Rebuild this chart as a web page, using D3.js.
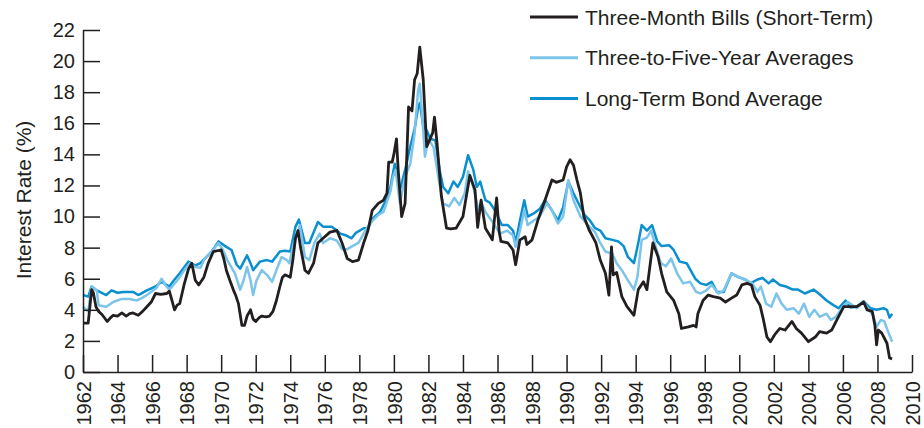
<!DOCTYPE html>
<html>
<head>
<meta charset="utf-8">
<script src="https://cdn.jsdelivr.net/npm/d3@7"></script>
<style>
  body { margin: 0; background: #fff; }
</style>
</head>
<body>
<script>
// series: [year, rate %]
var billRates = [
  [1962.0,3.15],[1962.3,3.15],[1962.4,4.2],[1962.5,5.3],[1962.6,5.1],[1962.75,4.2],[1962.9,3.9],
  [1963.1,3.7],[1963.4,3.25],[1963.6,3.5],[1963.75,3.65],[1964.0,3.6],[1964.25,3.8],[1964.5,3.6],
  [1964.7,3.75],[1964.9,3.8],[1965.2,3.65],[1965.45,3.9],[1965.7,4.2],[1965.95,4.5],[1966.2,5.05],
  [1966.5,5.0],[1966.85,5.05],[1967.0,5.2],[1967.15,4.6],[1967.3,4.0],[1967.45,4.3],[1967.6,4.4],
  [1967.85,5.6],[1968.1,6.6],[1968.3,7.0],[1968.5,5.9],[1968.7,5.6],[1969.0,6.1],[1969.25,7.0],
  [1969.55,7.75],[1969.8,7.8],[1970.0,7.85],[1970.15,7.3],[1970.3,6.55],[1970.5,5.9],[1970.7,5.3],
  [1970.85,4.9],[1971.0,4.4],[1971.2,3.0],[1971.35,3.0],[1971.5,3.6],[1971.7,4.0],[1971.85,3.4],
  [1972.0,3.25],[1972.2,3.5],[1972.35,3.6],[1972.6,3.55],[1972.8,3.6],[1973.0,3.9],[1973.2,4.6],
  [1973.4,5.5],[1973.55,6.1],[1973.7,6.25],[1974.0,6.1],[1974.15,7.2],[1974.3,8.6],[1974.45,9.1],
  [1974.6,8.0],[1974.85,6.55],[1975.05,6.35],[1975.35,7.0],[1975.6,8.3],[1975.9,8.6],[1976.3,9.0],
  [1976.7,9.1],[1977.0,8.3],[1977.3,7.3],[1977.6,7.1],[1977.95,7.2],[1978.25,8.3],[1978.5,9.1],
  [1978.75,10.4],[1979.1,10.85],[1979.4,11.05],[1979.6,11.5],[1979.7,13.5],[1979.9,13.5],[1980.0,14.0],
  [1980.15,15.0],[1980.25,13.0],[1980.45,10.0],[1980.65,10.85],[1980.85,17.05],[1981.05,16.8],
  [1981.2,18.8],[1981.35,19.2],[1981.5,20.9],[1981.7,18.8],[1981.9,14.5],[1982.1,15.0],[1982.25,15.4],
  [1982.35,16.4],[1982.5,14.7],[1982.75,11.3],[1983.05,9.25],[1983.3,9.2],[1983.6,9.25],[1984.0,10.0],
  [1984.4,12.65],[1984.7,11.7],[1984.85,9.3],[1985.05,11.05],[1985.3,9.25],[1985.55,8.8],[1985.7,8.5],
  [1985.95,11.2],[1986.1,9.0],[1986.2,8.4],[1986.6,8.3],[1986.9,7.85],[1987.05,6.9],[1987.3,8.5],
  [1987.6,8.7],[1987.7,8.2],[1988.0,8.5],[1988.35,9.8],[1988.75,11.05],[1989.15,12.35],[1989.4,12.2],
  [1989.8,12.35],[1990.0,13.2],[1990.2,13.65],[1990.4,13.3],[1990.6,12.35],[1990.8,11.5],[1991.0,10.0],
  [1991.3,9.15],[1991.7,8.3],[1991.95,7.2],[1992.25,6.35],[1992.45,4.95],[1992.6,8.05],[1992.7,6.25],
  [1992.9,6.4],[1993.2,4.85],[1993.5,4.2],[1993.9,3.65],[1994.15,5.3],[1994.45,5.8],[1994.65,5.3],
  [1995.0,8.3],[1995.3,7.4],[1995.5,6.35],[1995.8,5.15],[1996.2,4.6],[1996.5,3.75],[1996.65,2.8],
  [1997.05,2.9],[1997.35,3.0],[1997.5,2.9],[1997.6,3.75],[1997.9,4.6],[1998.2,4.95],[1998.5,4.85],
  [1998.9,4.75],[1999.2,4.5],[1999.55,4.75],[1999.85,4.95],[2000.15,5.6],[2000.45,5.7],[2000.7,5.6],
  [2000.9,4.85],[2001.2,4.3],[2001.4,3.35],[2001.6,2.25],[2001.8,1.95],[2002.05,2.4],[2002.35,2.8],
  [2002.65,2.7],[2003.05,3.25],[2003.3,2.8],[2003.6,2.5],[2004.0,1.95],[2004.4,2.25],[2004.65,2.6],
  [2005.05,2.5],[2005.35,2.7],[2005.65,3.35],[2006.05,4.2],[2006.3,4.2],[2006.8,4.2],[2007.2,4.5],
  [2007.4,4.0],[2007.7,3.9],[2007.85,3.0],[2007.95,1.75],[2008.05,2.7],[2008.25,2.5],[2008.55,1.85],
  [2008.7,0.9],[2008.85,0.85]
];

var midRates = [
  [1962.0,4.2],[1962.3,3.9],[1962.5,5.5],[1962.8,5.25],[1962.9,4.3],[1963.35,4.2],[1963.75,4.5],
  [1964.25,4.7],[1964.7,4.7],[1965.1,4.6],[1965.4,4.75],[1965.7,4.95],[1966.25,5.4],[1966.55,6.0],
  [1966.8,5.55],[1967.0,5.3],[1967.2,5.55],[1967.6,6.1],[1967.9,6.6],[1968.2,7.0],[1968.5,6.75],
  [1968.8,6.7],[1969.05,7.3],[1969.45,7.75],[1969.85,8.3],[1970.1,7.85],[1970.4,7.1],[1970.8,6.35],
  [1971.1,5.3],[1971.3,5.9],[1971.5,6.75],[1971.7,5.9],[1971.85,4.95],[1972.05,5.9],[1972.35,6.55],
  [1972.65,6.25],[1972.95,5.8],[1973.2,6.55],[1973.5,7.4],[1973.8,7.2],[1973.95,7.0],[1974.2,8.3],
  [1974.45,8.9],[1974.55,9.45],[1974.85,7.4],[1975.1,7.2],[1975.4,8.3],[1975.7,8.9],[1975.9,8.3],
  [1976.3,8.6],[1976.7,8.45],[1977.0,7.9],[1977.3,7.9],[1977.6,8.1],[1977.95,8.3],[1978.35,9.1],
  [1978.7,9.65],[1979.1,10.1],[1979.4,10.3],[1979.8,11.6],[1979.95,12.55],[1980.1,13.0],[1980.35,10.85],
  [1980.65,12.55],[1980.95,13.4],[1981.2,15.35],[1981.4,18.1],[1981.5,18.55],[1981.7,15.55],
  [1981.8,13.85],[1982.0,15.0],[1982.3,14.45],[1982.6,12.35],[1982.85,10.85],[1983.2,10.65],
  [1983.5,11.2],[1983.8,10.75],[1984.1,11.5],[1984.3,12.9],[1984.6,11.9],[1984.9,10.4],[1985.05,10.95],
  [1985.3,10.3],[1985.65,9.75],[1986.15,8.9],[1986.55,9.1],[1986.9,8.8],[1987.05,8.05],[1987.3,9.1],
  [1987.55,10.4],[1987.75,9.45],[1988.1,9.75],[1988.45,10.0],[1988.85,10.85],[1989.15,10.4],
  [1989.5,9.55],[1989.8,10.0],[1990.1,12.35],[1990.4,11.05],[1990.8,10.0],[1991.15,9.55],[1991.65,9.0],
  [1991.95,8.3],[1992.25,7.75],[1992.65,7.6],[1992.9,7.0],[1993.2,6.55],[1993.55,5.9],[1993.9,5.3],
  [1994.1,6.1],[1994.35,8.5],[1994.65,8.65],[1994.9,9.1],[1995.15,8.1],[1995.45,7.0],[1995.75,6.8],
  [1996.05,7.3],[1996.4,6.35],[1996.75,5.7],[1997.15,5.8],[1997.5,5.15],[1997.75,5.05],[1998.1,5.25],
  [1998.4,5.6],[1998.8,5.05],[1999.1,5.25],[1999.55,6.35],[1999.95,6.1],[2000.35,5.95],[2000.75,5.7],
  [2001.05,5.15],[2001.25,5.5],[2001.55,4.4],[2001.85,4.2],[2002.15,5.05],[2002.45,4.4],[2002.75,4.0],
  [2003.15,4.1],[2003.45,3.75],[2003.75,4.4],[2004.05,3.55],[2004.35,4.0],[2004.65,3.55],[2005.05,3.75],
  [2005.3,3.35],[2005.6,3.55],[2006.0,4.2],[2006.3,4.5],[2006.8,4.1],[2007.2,4.5],[2007.5,4.0],
  [2007.75,3.65],[2007.95,2.9],[2008.2,3.35],[2008.4,3.25],[2008.65,2.5],[2008.85,1.95]
];

var longRates = [
  [1962.0,4.95],[1962.3,4.85],[1962.5,5.5],[1962.8,5.25],[1963.35,4.95],[1963.65,5.25],[1964.0,5.1],
  [1964.35,5.15],[1964.9,5.15],[1965.2,4.95],[1965.7,5.25],[1966.2,5.5],[1966.55,5.8],[1967.0,5.5],
  [1967.3,5.95],[1967.6,6.35],[1968.1,7.1],[1968.5,6.85],[1968.8,7.0],[1969.05,7.3],[1969.45,7.75],
  [1969.85,8.4],[1970.3,8.05],[1970.6,7.85],[1970.9,6.9],[1971.1,6.65],[1971.5,7.5],[1971.7,7.0],
  [1971.85,6.55],[1972.25,7.1],[1972.65,7.2],[1972.95,7.1],[1973.4,7.75],[1973.7,7.8],[1974.0,7.75],
  [1974.3,9.35],[1974.5,9.8],[1974.85,8.3],[1975.1,8.3],[1975.6,9.65],[1975.9,9.35],[1976.4,9.35],
  [1976.7,9.1],[1976.9,8.9],[1977.2,8.8],[1977.55,8.6],[1977.8,8.95],[1978.25,9.25],[1978.5,9.25],
  [1978.8,9.9],[1979.2,10.3],[1979.5,10.95],[1979.8,11.9],[1980.05,13.4],[1980.35,11.7],[1980.65,13.0],
  [1980.95,14.5],[1981.2,15.65],[1981.4,17.0],[1981.5,17.3],[1981.7,15.8],[1981.9,15.55],[1982.1,15.0],
  [1982.4,14.9],[1982.65,13.0],[1982.85,11.9],[1983.15,11.5],[1983.45,12.25],[1983.7,11.9],
  [1984.0,12.55],[1984.3,13.95],[1984.6,13.0],[1984.8,11.9],[1985.0,12.25],[1985.3,11.05],[1985.55,10.9],
  [1985.85,10.4],[1986.25,9.45],[1986.6,9.45],[1986.9,9.1],[1987.05,8.3],[1987.3,9.75],[1987.55,11.05],
  [1987.75,10.0],[1988.1,10.2],[1988.45,10.5],[1988.75,11.05],[1989.15,10.4],[1989.5,9.75],[1989.8,10.6],
  [1990.1,12.25],[1990.4,11.5],[1990.8,10.6],[1991.05,10.1],[1991.35,9.75],[1991.65,9.25],[1991.95,9.1],
  [1992.25,8.6],[1992.65,8.5],[1993.0,8.4],[1993.3,8.1],[1993.55,7.4],[1993.9,7.0],[1994.15,8.3],
  [1994.35,9.45],[1994.65,9.1],[1994.95,9.45],[1995.25,8.4],[1995.5,8.1],[1995.95,8.15],[1996.2,7.85],
  [1996.55,7.1],[1996.95,7.0],[1997.2,6.5],[1997.45,6.0],[1997.75,5.7],[1998.1,5.6],[1998.4,5.8],
  [1998.7,5.15],[1999.1,5.15],[1999.55,6.35],[1999.95,6.1],[2000.35,5.95],[2000.65,5.7],[2001.05,5.95],
  [2001.35,6.05],[2001.7,5.7],[2001.95,5.95],[2002.35,5.6],[2002.7,5.5],[2003.1,5.3],[2003.4,5.3],
  [2003.8,5.05],[2004.3,5.3],[2004.65,5.0],[2005.05,4.6],[2005.45,4.3],[2005.75,4.1],[2006.15,4.6],
  [2006.45,4.15],[2006.8,4.2],[2007.2,4.55],[2007.6,4.1],[2007.95,4.0],[2008.35,4.1],[2008.55,4.0],
  [2008.7,3.5],[2008.85,3.75]
];

var seriesNames = ["Three-Month Bills (Short-Term)", "Three-to-Five-Year Averages", "Long-Term Bond Average"];
var seriesColors = ["#231f20", "#7cc4ea", "#0a90d0"];
var yearTicks = d3.range(1962, 2011, 2);
var rateTicks = d3.range(0, 23, 2);

var ink = "#231f20";
var font = "'Liberation Sans', Arial, Helvetica, sans-serif";

var svg = d3.select("body").append("svg")
    .attr("width", 924)
    .attr("height", 428);

var x = d3.scaleLinear().domain([1962, 2010]).range([83, 912]);
var y = d3.scaleLinear().domain([0, 22]).range([372, 30]);

// lines, long-term first so the bills sit on top
var line = d3.line()
    .x(function (d) { return x(d[0]); })
    .y(function (d) { return y(d[1]); });

var drawOrder = [[longRates, 2], [midRates, 1], [billRates, 0]];
drawOrder.forEach(function (s) {
  svg.append("path")
      .datum(s[0])
      .attr("fill", "none")
      .attr("stroke", seriesColors[s[1]])
      .attr("stroke-width", s[1] === 0 ? 2.8 : 2.5)
      .attr("stroke-linejoin", "round")
      .attr("d", line);
});

// y axis, ticks pointing inward
var yAxis = svg.append("g")
    .attr("transform", "translate(83,0)")
    .call(d3.axisLeft(y).tickValues(rateTicks).tickSize(-17).tickSizeOuter(0).tickPadding(8));

// x axis
var xAxis = svg.append("g")
    .attr("transform", "translate(0,372)")
    .call(d3.axisBottom(x).tickValues(yearTicks).tickSize(-17).tickSizeOuter(0).tickFormat(d3.format("d")));

xAxis.selectAll("text")
    .attr("y", null)
    .attr("x", -9)
    .attr("dy", "0.36em")
    .attr("transform", "rotate(-90)")
    .style("text-anchor", "end");

[xAxis, yAxis].forEach(function (g) {
  g.attr("font-family", font).attr("font-size", 20);
  g.selectAll("path, line").attr("stroke", ink).attr("stroke-width", 1.5);
  g.selectAll("text").attr("fill", ink);
});

// axis title
svg.append("text")
    .attr("transform", "translate(31,200) rotate(-90)")
    .attr("text-anchor", "middle")
    .attr("font-family", font)
    .attr("font-size", 21)
    .attr("fill", ink)
    .text("Interest Rate (%)");

// legend
var legend = svg.selectAll(".legend")
    .data(seriesNames)
    .enter().append("g")
    .attr("transform", function (d, i) { return "translate(530," + (17 + i * 40.8) + ")"; });

legend.append("line")
    .attr("x1", 0).attr("x2", 48)
    .attr("stroke", function (d, i) { return seriesColors[i]; })
    .attr("stroke-width", 3);

legend.append("text")
    .attr("x", 55)
    .attr("dy", "0.36em")
    .attr("font-family", font)
    .attr("font-size", 21)
    .attr("fill", ink)
    .text(function (d) { return d; });
</script>
</body>
</html>
